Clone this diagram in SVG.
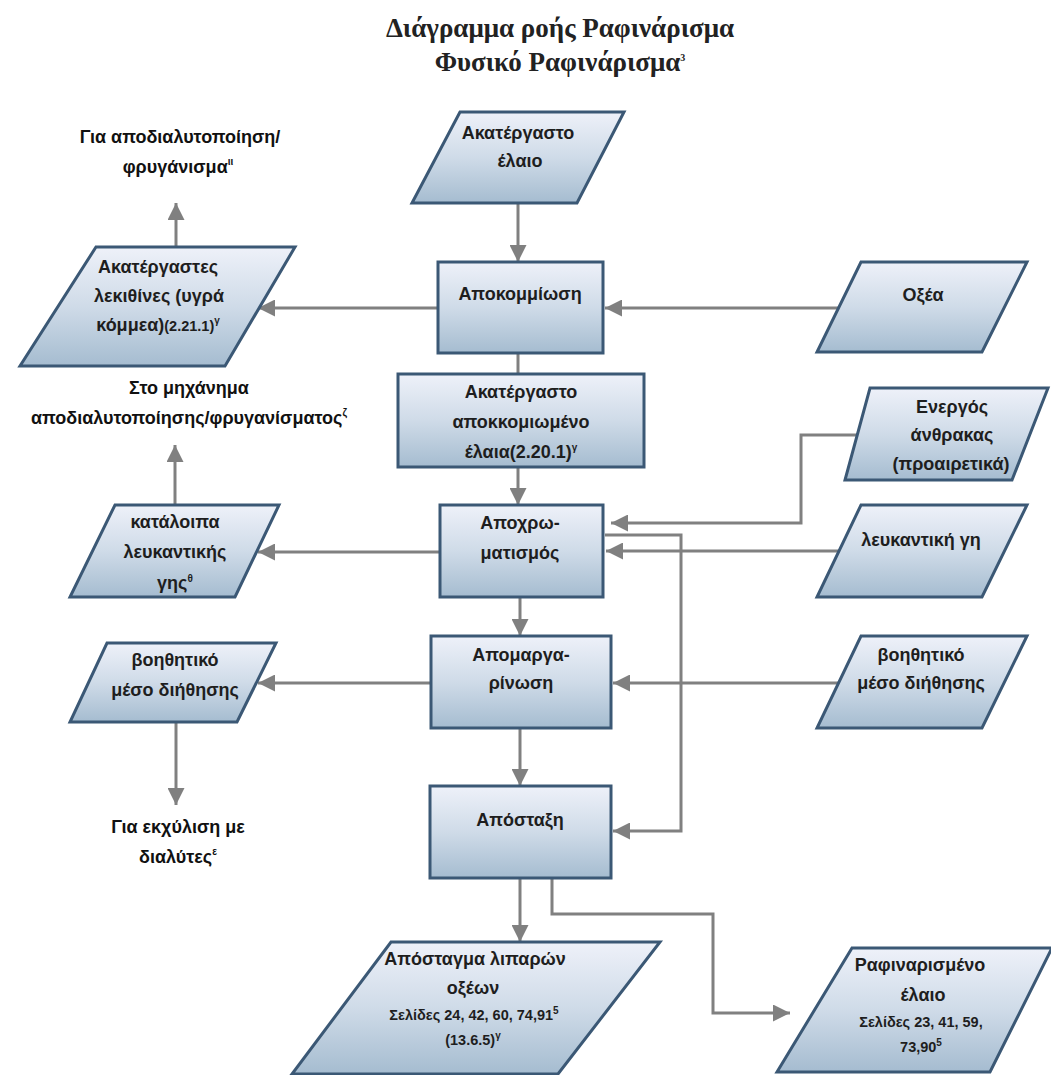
<svg xmlns="http://www.w3.org/2000/svg" width="1051" height="1075" viewBox="0 0 1051 1075">
<defs>
<linearGradient id="g" x1="0" y1="0" x2="0" y2="1">
<stop offset="0" stop-color="#eef1f9"/>
<stop offset="0.5" stop-color="#cfdbe8"/>
<stop offset="1" stop-color="#a5bcd0"/>
</linearGradient>
<marker id="ah" viewBox="0 0 10 10" refX="10" refY="5" markerWidth="17" markerHeight="17" markerUnits="userSpaceOnUse" orient="auto">
<path d="M0,0 L10,5 L0,10 z" fill="#808080"/>
</marker>
<style>
.n{fill:url(#g);stroke:#3b5875;stroke-width:3}
.c{fill:none;stroke:#808080;stroke-width:3}
.a{marker-end:url(#ah)}
text{font-family:"Liberation Sans",Arial,sans-serif;font-weight:bold;font-size:18px;fill:#1e1e1e;text-anchor:middle}
.t{font-family:"Liberation Serif","Times New Roman",serif;font-size:27px;fill:#222}
.s{font-size:14.5px}
.sup{font-size:10px}
.lbl{font-size:18px;fill:#111}
</style>
</defs>
<g id="title">
<text class="t" x="560" y="37">Διάγραμμα ροής Ραφινάρισμα</text>
<text class="t" x="560" y="71">Φυσικό Ραφινάρισμα<tspan class="sup" dy="-10">3</tspan></text>
</g>
<g id="connectors">
<path class="c a" d="M518,203 L518,262"/>
<path class="c a" d="M438,308 L258,308"/>
<path class="c a" d="M176,247 L176,203"/>
<path class="c a" d="M838,308 L605,308"/>
<path class="c" d="M518,353 L518,374"/>
<path class="c a" d="M518,467 L518,505"/>
<path class="c a" d="M175,505 L175,445"/>
<path class="c a" d="M440,552 L258,552"/>
<path class="c a" d="M858,435 L801,435 L801,523 L611,523"/>
<path class="c a" d="M839,551 L606,551"/>
<path class="c a" d="M605,535 L681,535 L681,831 L613,831"/>
<path class="c a" d="M520,597 L520,636"/>
<path class="c a" d="M431,683 L258,683"/>
<path class="c a" d="M839,683 L613,683"/>
<path class="c a" d="M176,722 L176,805"/>
<path class="c a" d="M520,728 L520,786"/>
<path class="c a" d="M520,878 L520,942"/>
<path class="c a" d="M552,878 L552,914 L713,914 L713,1013 L790,1013"/>
</g>
<g id="label-top">
<text class="lbl" x="180" y="143">Για αποδιαλυτοποίηση/</text>
<text class="lbl" x="178" y="173">φρυγάνισμα<tspan class="sup" dy="-8">ιι</tspan></text>
</g>
<g id="label-mid">
<text class="lbl" x="189" y="394">Στο μηχάνημα</text>
<text class="lbl" x="189" y="424">αποδιαλυτοποίησης/φρυγανίσματος<tspan class="sup" dy="-8">ζ</tspan></text>
</g>
<g id="label-bottom">
<text class="lbl" x="178" y="833">Για εκχύλιση με</text>
<text class="lbl" x="178" y="863">διαλύτες<tspan class="sup" dy="-8">ε</tspan></text>
</g>
<g id="n-crude-oil">
<polygon class="n" points="460,112 624,112 577,203 412,203"/>
<text x="518" y="139">Ακατέργαστο</text>
<text x="520" y="167">έλαιο</text>
</g>
<g id="n-degumming">
<rect class="n" x="438" y="262" width="165" height="91"/>
<text x="520" y="300">Αποκομμίωση</text>
</g>
<g id="n-acids">
<polygon class="n" points="861,262 1027,262 982,352 817,352"/>
<text x="923" y="301">Οξέα</text>
</g>
<g id="n-lecithins">
<polygon class="n" points="96,247 295,247 225,366 20,366"/>
<text x="158" y="273">Ακατέργαστες</text>
<text x="159" y="302">λεκιθίνες (υγρά</text>
<text x="158" y="331">κόμμεα)<tspan class="s">(2.21.1)</tspan><tspan class="sup" dy="-7">γ</tspan></text>
</g>
<g id="n-degummed-oil">
<rect class="n" x="398" y="374" width="246" height="93"/>
<text x="521" y="398">Ακατέργαστο</text>
<text x="521" y="428">αποκκομιωμένο</text>
<text x="521" y="458">έλαια(2.20.1)<tspan class="sup" dy="-7">γ</tspan></text>
</g>
<g id="n-carbon">
<polygon class="n" points="870,388 1048,388 1012,480 845,480"/>
<text x="952" y="413">Ενεργός</text>
<text x="952" y="441">άνθρακας</text>
<text x="951" y="470">(προαιρετικά)</text>
</g>
<g id="n-bleaching">
<rect class="n" x="440" y="505" width="163" height="92"/>
<text x="520" y="529">Αποχρω-</text>
<text x="520" y="559">ματισμός</text>
</g>
<g id="n-bleaching-earth">
<polygon class="n" points="861,505 1027,505 982,597 817,597"/>
<text x="921" y="546">λευκαντική γη</text>
</g>
<g id="n-earth-residue">
<polygon class="n" points="115,505 279,505 235,597 70,597"/>
<text x="175" y="528">κατάλοιπα</text>
<text x="175" y="558">λευκαντικής</text>
<text x="175" y="589">γης<tspan class="sup" dy="-7">θ</tspan></text>
</g>
<g id="n-dewaxing">
<rect class="n" x="431" y="636" width="180" height="92"/>
<text x="521" y="661">Απομαργα-</text>
<text x="521" y="689">ρίνωση</text>
</g>
<g id="n-filter-aid-in">
<polygon class="n" points="861,636 1027,636 982,728 817,728"/>
<text x="921" y="661">βοηθητικό</text>
<text x="921" y="689">μέσο διήθησης</text>
</g>
<g id="n-filter-aid-out">
<polygon class="n" points="107,643 276,643 237,722 70,722"/>
<text x="175" y="666">βοηθητικό</text>
<text x="175" y="696">μέσο διήθησης</text>
</g>
<g id="n-distillation">
<rect class="n" x="430" y="786" width="181" height="92"/>
<text x="520" y="826">Απόσταξη</text>
</g>
<g id="n-fatty-acids">
<polygon class="n" points="391,942 660,942 558,1074 292,1074"/>
<text x="475" y="965">Απόσταγμα λιπαρών</text>
<text x="473" y="994">οξέων</text>
<text class="s" x="474" y="1020">Σελίδες 24, 42, 60, 74,91<tspan class="sup" dy="-6">5</tspan></text>
<text class="s" x="473" y="1045">(13.6.5)<tspan class="sup" dy="-6">γ</tspan></text>
</g>
<g id="n-refined-oil">
<polygon class="n" points="852,948 1052,948 990,1072 777,1072"/>
<text x="920" y="971">Ραφιναρισμένο</text>
<text x="923" y="1001">έλαιο</text>
<text class="s" x="921" y="1027">Σελίδες 23, 41, 59,</text>
<text class="s" x="921" y="1052">73,90<tspan class="sup" dy="-6">5</tspan></text>
</g>
</svg>
